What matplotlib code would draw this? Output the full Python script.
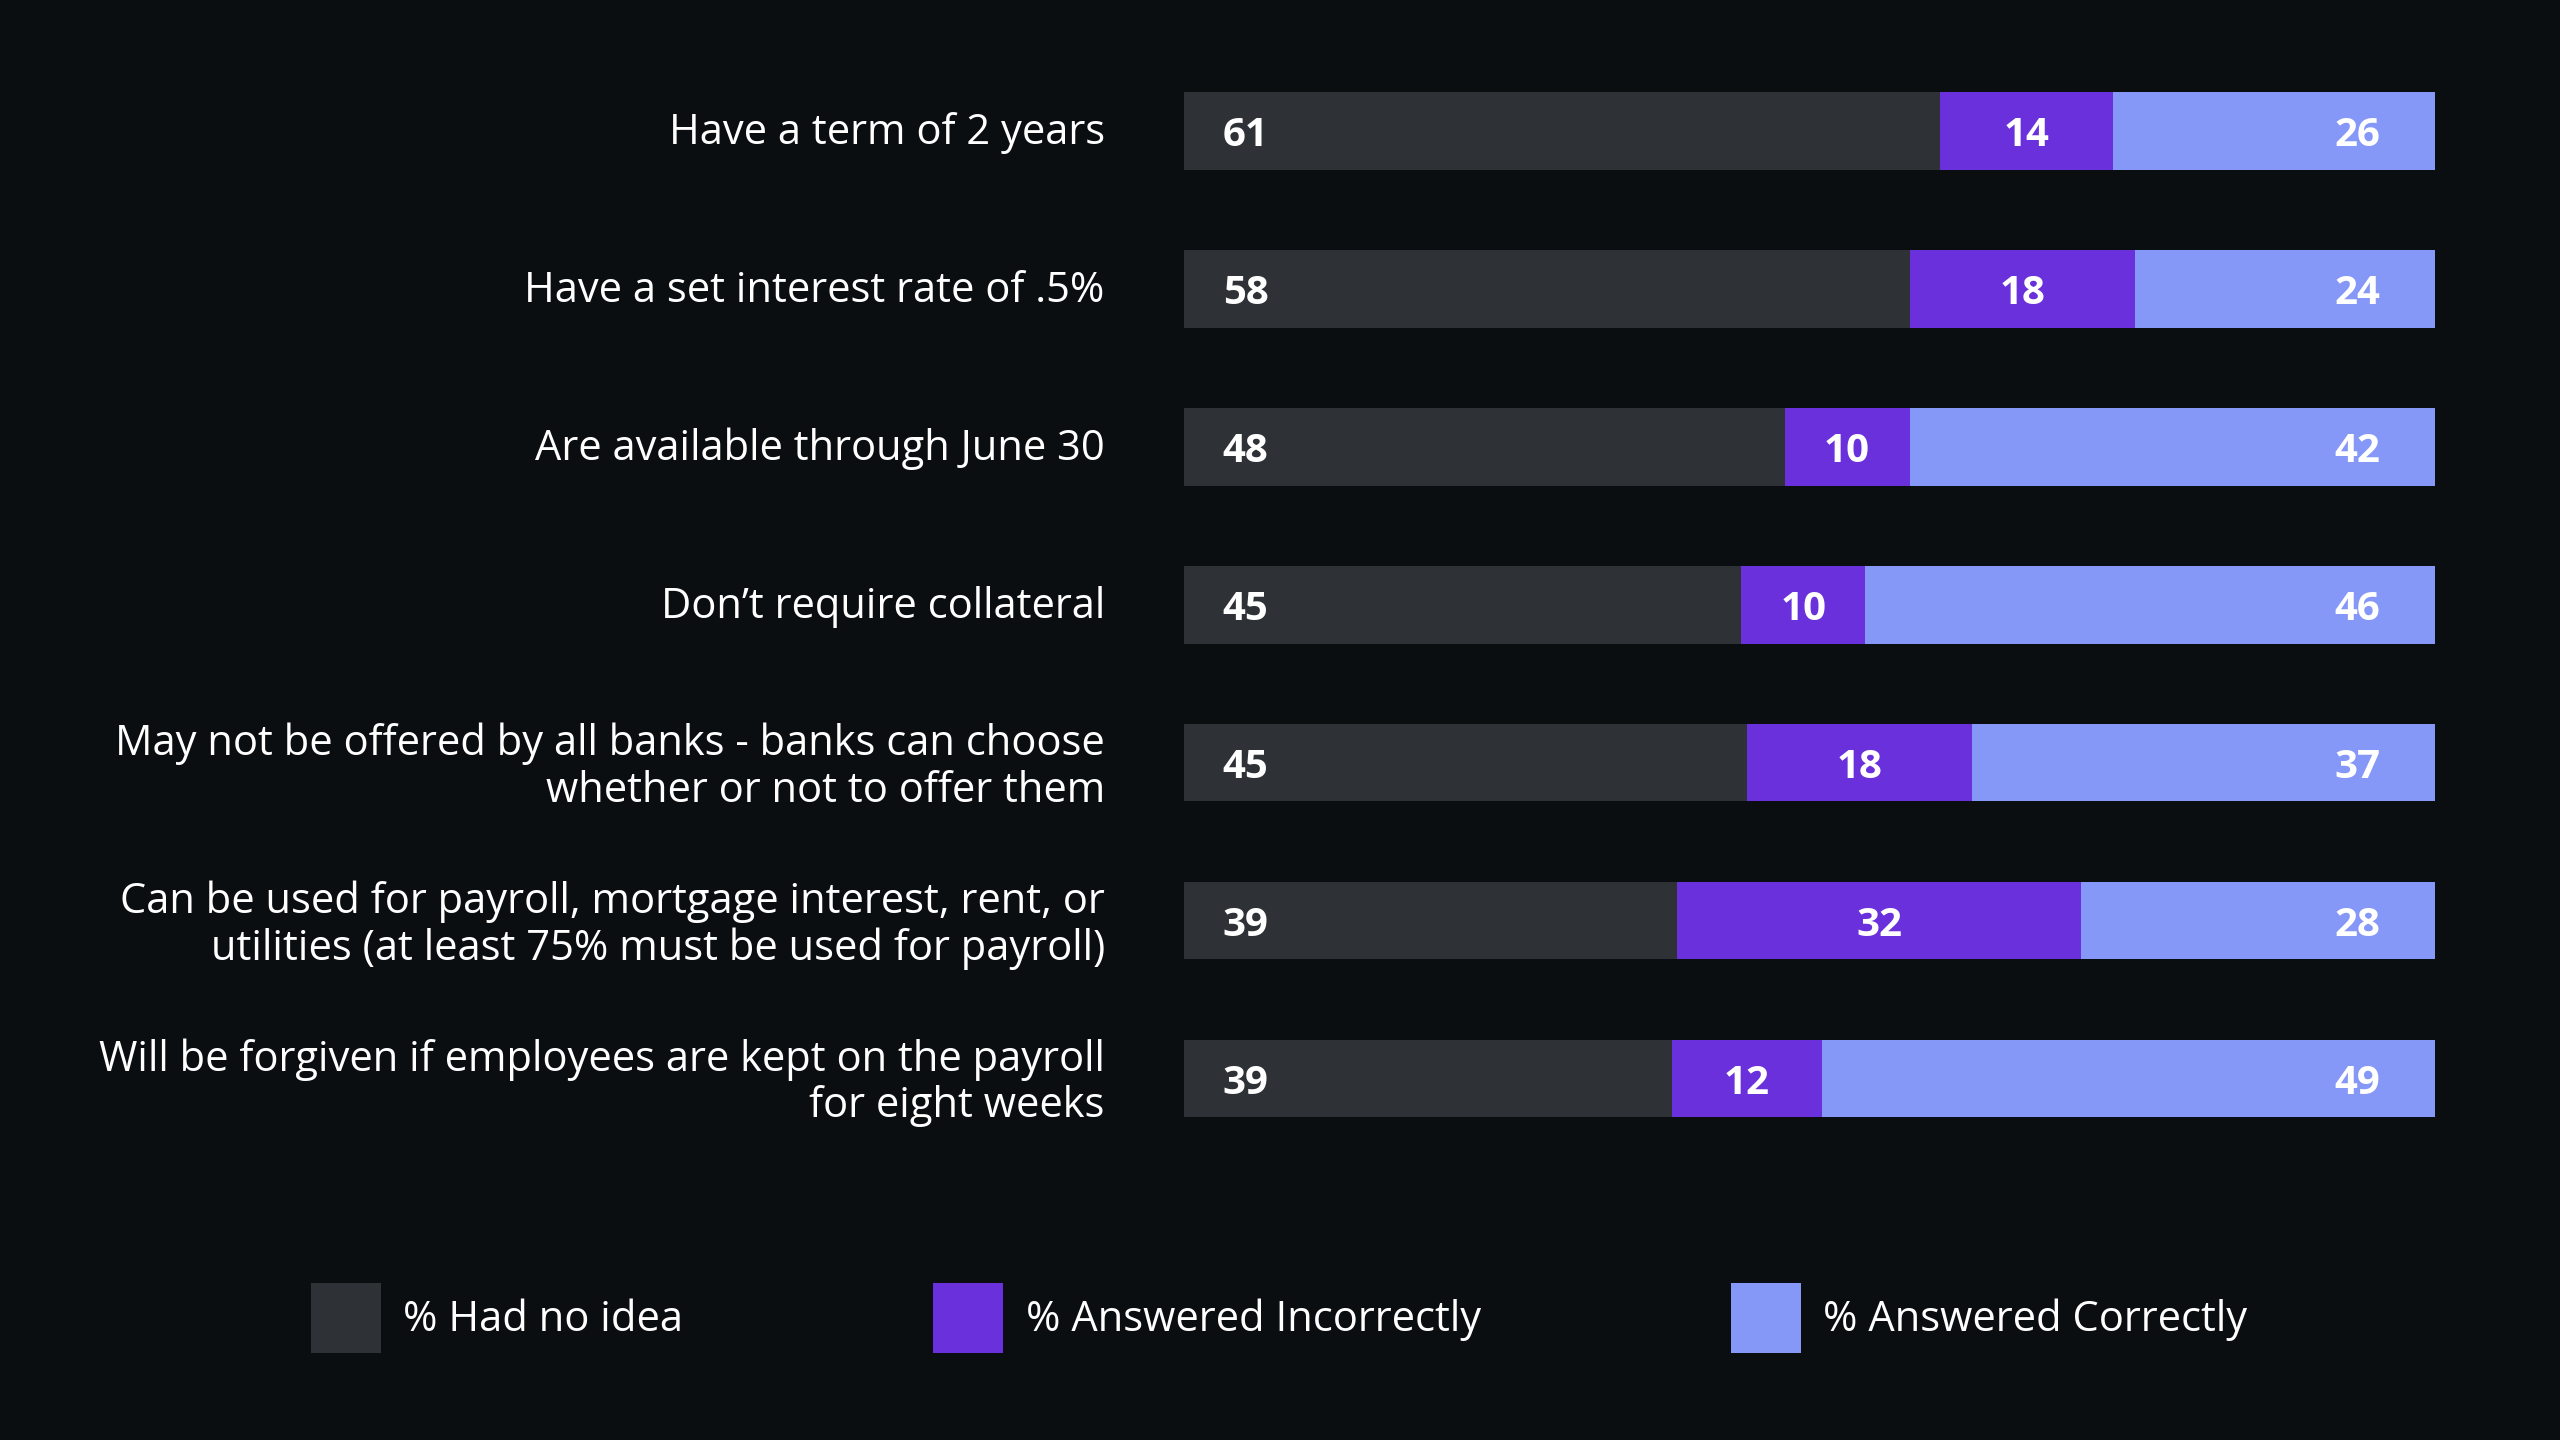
import numpy as np
import matplotlib
matplotlib.use("Agg")
import matplotlib.pyplot as plt
from matplotlib.patches import Patch
from matplotlib.transforms import ScaledTranslation

categories = [
    "Have a term of 2 years",
    "Have a set interest rate of .5%",
    "Are available through June 30",
    "Don\u2019t require collateral",
    "May not be offered by all banks - banks can choose\nwhether or not to offer them",
    "Can be used for payroll, mortgage interest, rent, or\nutilities (at least 75% must be used for payroll)",
    "Will be forgiven if employees are kept on the payroll\nfor eight weeks",
]
no_idea = [61, 58, 48, 45, 45, 39, 39]
incorrect = [14, 18, 10, 10, 18, 32, 12]
correct = [26, 24, 42, 46, 37, 28, 49]
series_names = ["% Had no idea", "% Answered Incorrectly", "% Answered Correctly"]

bg = "#0b0e11"
colors = ["#2e3135", "#6930db", "#8597f7"]

plt.rcParams['font.family'] = ["Open Sans", 'DejaVu Sans']

fig = plt.figure(figsize=(25.6, 14.4), dpi=100, facecolor=bg)
ax = fig.add_axes([0.4625, 0.196, 0.4887, 0.768])
ax.set_facecolor(bg)

a = np.array(no_idea, float)
b = np.array(incorrect, float)
c = np.array(correct, float)
tot = a + b + c
# each row is shown as a share of its own total
a, b, c = a / tot * 100, b / tot * 100, c / tot * 100
y = np.arange(len(categories))
h = 0.49

ax.barh(y, a, height=h, color=colors[0])
ax.barh(y, b, left=a, height=h, color=colors[1])
ax.barh(y, c, left=a + b, height=h, color=colors[2])

num_kw = dict(va="center", color="white", fontsize=29, fontweight="bold")
for i in range(len(categories)):
    ax.text(3.1, y[i] + 0.03, str(no_idea[i]), ha="left", **num_kw)
    ax.text(a[i] + b[i] / 2, y[i] + 0.03, str(incorrect[i]), ha="center", **num_kw)
    ax.text(100 - 4.4, y[i] + 0.03, str(correct[i]), ha="right", **num_kw)

ax.set_xlim(0, 100)
ax.set_ylim(len(categories) - 0.5, -0.5)
ax.set_yticks(y)
ax.set_yticklabels(categories, fontsize=30, color="white", linespacing=1.14)
ax.tick_params(axis="y", length=0, pad=57)
ax.set_xticks([])
for s in ax.spines.values():
    s.set_visible(False)

# nudge the category labels up a hair
shift = ScaledTranslation(0, 3 / 100, fig.dpi_scale_trans)
for lab in ax.get_yticklabels():
    lab.set_transform(lab.get_transform() + shift)

handles = [Patch(facecolor=col, edgecolor="none") for col in colors]
fig.legend(handles, series_names, loc="center", bbox_to_anchor=(0.4997, 0.085),
           ncol=3, frameon=False, fontsize=30, labelcolor="white",
           handlelength=1.68, handleheight=2.21, handletextpad=0.54,
           columnspacing=6.0)

fig.savefig("out.png", dpi=100, facecolor=bg)
